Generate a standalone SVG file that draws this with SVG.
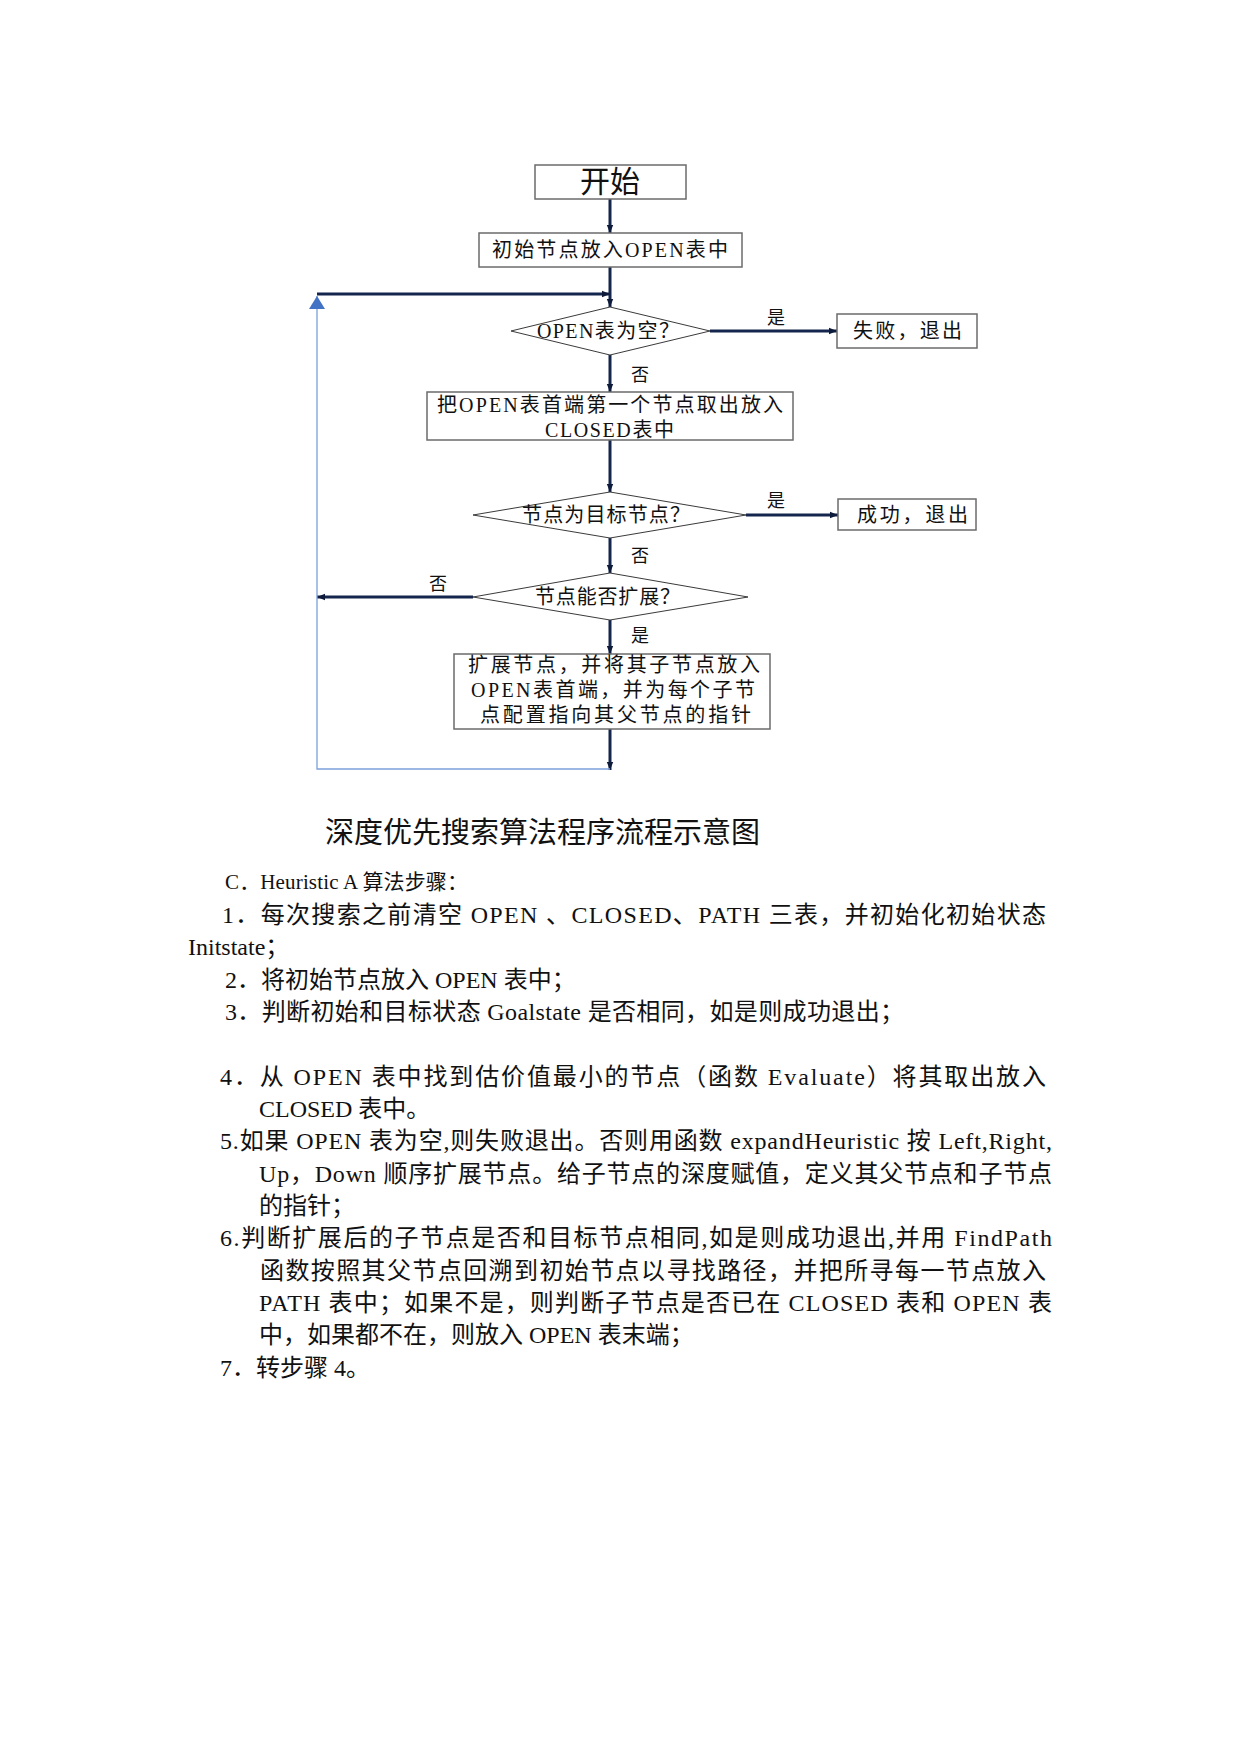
<svg xmlns="http://www.w3.org/2000/svg" width="1241" height="1754" viewBox="0 0 1241 1754">
<style>
.bg{fill:#ffffff}
.box{fill:#ffffff;stroke:#6b6b6b;stroke-width:1.5}
.dia{fill:#ffffff;stroke:#3a3a3a;stroke-width:1}
.lbl{font-family:"Liberation Serif","Noto Sans CJK SC",serif;font-size:20px;fill:#111}
.big{font-family:"Liberation Serif","Noto Sans CJK SC",serif;font-size:30px;fill:#111}
.yn{font-family:"Liberation Serif","Noto Sans CJK SC",serif;font-size:18px;fill:#111;text-anchor:middle}
.cap{font-family:"Liberation Serif","Noto Sans CJK SC",serif;font-size:29px;fill:#111}
.body{font-family:"Liberation Serif","Noto Sans CJK SC",serif;font-size:24px;fill:#111}
.sub{font-family:"Liberation Serif","Noto Sans CJK SC",serif;font-size:21px;fill:#111}
.conn{fill:none;stroke:#14264d;stroke-width:3}
.back{fill:none;stroke:#7da0db;stroke-width:1.3}
</style>
<defs>
<marker id="arr" viewBox="0 0 10 10" refX="10" refY="5" markerWidth="8" markerHeight="8" markerUnits="userSpaceOnUse" orient="auto">
<path d="M0,1 L10,5 L0,9 Z" fill="#0d1a3a"/>
</marker>
<marker id="arrBlue" viewBox="0 0 13 16" refX="13" refY="8" markerWidth="13" markerHeight="16" markerUnits="userSpaceOnUse" orient="auto">
<path d="M0,0 L13,8 L0,16 Z" fill="#4472c4"/>
</marker>
</defs>
<rect class="bg" x="0" y="0" width="1241" height="1754"/>

<g id="connectors">
<line class="conn" x1="610" y1="199" x2="610" y2="233" marker-end="url(#arr)"/>
<line class="conn" x1="610" y1="267" x2="610" y2="307" marker-end="url(#arr)"/>
<line class="conn" x1="317" y1="294" x2="610" y2="294" marker-end="url(#arr)"/>
<line class="conn" x1="710" y1="331" x2="837" y2="331" marker-end="url(#arr)"/>
<line class="conn" x1="610" y1="355" x2="610" y2="392" marker-end="url(#arr)"/>
<line class="conn" x1="610" y1="440" x2="610" y2="492" marker-end="url(#arr)"/>
<line class="conn" x1="746" y1="515" x2="838" y2="515" marker-end="url(#arr)"/>
<line class="conn" x1="610" y1="538" x2="610" y2="573" marker-end="url(#arr)"/>
<line class="conn" x1="473" y1="597" x2="317" y2="597" marker-end="url(#arr)"/>
<line class="conn" x1="610" y1="620" x2="610" y2="654" marker-end="url(#arr)"/>
<line class="conn" x1="610" y1="729" x2="610" y2="770" marker-end="url(#arr)"/>
<polyline class="back" points="610,769 317,769 317,296" marker-end="url(#arrBlue)"/>
<text class="yn" x="776" y="324">是</text>
<text class="yn" x="640" y="381">否</text>
<text class="yn" x="776" y="507">是</text>
<text class="yn" x="640" y="562">否</text>
<text class="yn" x="438" y="590">否</text>
<text class="yn" x="640" y="642">是</text>
</g>

<g id="start">
<rect class="box" x="535" y="165" width="151" height="34"/>
<text class="big" x="610" y="192" text-anchor="middle">开始</text>
</g>
<g id="init">
<rect class="box" x="479" y="233" width="263" height="34"/>
<text class="lbl" x="492" y="257" textLength="236">初始节点放入OPEN表中</text>
</g>
<g id="openEmpty">
<polygon class="dia" points="511,331 610,307 710,331 610,355"/>
<text class="lbl" x="537" y="338" textLength="142">OPEN表为空？</text>
</g>
<g id="fail">
<rect class="box" x="837" y="314" width="140" height="34"/>
<text class="lbl" x="853" y="338" textLength="109">失败，退出</text>
</g>
<g id="takeFirst">
<rect class="box" x="427" y="392" width="366" height="48"/>
<text class="lbl" x="437" y="412" textLength="346">把OPEN表首端第一个节点取出放入</text>
<text class="lbl" x="545" y="437" textLength="129">CLOSED表中</text>
</g>
<g id="isGoal">
<polygon class="dia" points="473,515 610,492 746,515 610,538"/>
<text class="lbl" x="522" y="522" textLength="168">节点为目标节点？</text>
</g>
<g id="success">
<rect class="box" x="838" y="499" width="138" height="31"/>
<text class="lbl" x="857" y="522" textLength="111">成功，退出</text>
</g>
<g id="canExpand">
<polygon class="dia" points="473,597 610,573 748,597 610,620"/>
<text class="lbl" x="535" y="604" textLength="145">节点能否扩展？</text>
</g>
<g id="expand">
<rect class="box" x="454" y="654" width="316" height="75"/>
<text class="lbl" x="468" y="672" textLength="292">扩展节点，并将其子节点放入</text>
<text class="lbl" x="471" y="697" textLength="284">OPEN表首端，并为每个子节</text>
<text class="lbl" x="480" y="722" textLength="271">点配置指向其父节点的指针</text>
</g>

<g id="caption">
<text class="cap" x="325" y="843" textLength="435">深度优先搜索算法程序流程示意图</text>
</g>

<g id="steps">
<text class="sub" x="225" y="889" textLength="243">C．Heuristic A 算法步骤：</text>
<text class="body" x="222" y="923" textLength="824">1．每次搜索之前清空 OPEN 、CLOSED、PATH 三表，并初始化初始状态</text>
<text class="body" x="188" y="955">Initstate；</text>
<text class="body" x="225" y="988">2．将初始节点放入 OPEN 表中；</text>
<text class="body" x="225" y="1020" textLength="679">3．判断初始和目标状态 Goalstate 是否相同，如是则成功退出；</text>
<text class="body" x="220" y="1085" textLength="826">4．从 OPEN 表中找到估价值最小的节点（函数 Evaluate）将其取出放入</text>
<text class="body" x="259" y="1117">CLOSED 表中。</text>
<text class="body" x="220" y="1149" textLength="832">5.如果 OPEN 表为空,则失败退出。否则用函数 expandHeuristic 按 Left,Right,</text>
<text class="body" x="259" y="1182" textLength="793">Up，Down 顺序扩展节点。给子节点的深度赋值，定义其父节点和子节点</text>
<text class="body" x="259" y="1214">的指针；</text>
<text class="body" x="220" y="1246" textLength="832">6.判断扩展后的子节点是否和目标节点相同,如是则成功退出,并用 FindPath</text>
<text class="body" x="260" y="1279" textLength="786">函数按照其父节点回溯到初始节点以寻找路径，并把所寻每一节点放入</text>
<text class="body" x="259" y="1311" textLength="793">PATH 表中；如果不是，则判断子节点是否已在 CLOSED 表和 OPEN 表</text>
<text class="body" x="259" y="1343">中，如果都不在，则放入 OPEN 表末端；</text>
<text class="body" x="220" y="1376">7．转步骤 4。</text>
</g>
</svg>
